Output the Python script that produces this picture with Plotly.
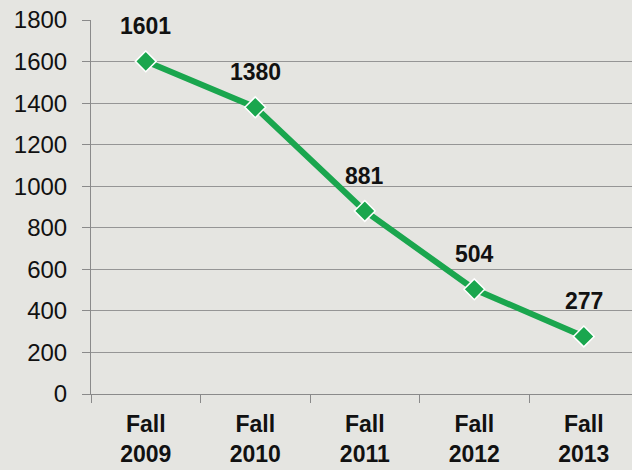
import plotly.graph_objects as go

categories = ["Fall<br>2009", "Fall<br>2010", "Fall<br>2011", "Fall<br>2012", "Fall<br>2013"]
values = [1601, 1380, 881, 504, 277]
y_ticks = [0, 200, 400, 600, 800, 1000, 1200, 1400, 1600, 1800]

green = "#1aa64e"
bg = "#e5e5e1"
FONT = "Liberation Sans, Arial"

fig = go.Figure()
fig.add_trace(go.Scatter(
    x=categories, y=values, mode="lines+markers",
    line=dict(color=green, width=6),
    marker=dict(symbol="diamond", size=16, color=green, line=dict(color="white", width=1.5)),
    hoverinfo="skip", showlegend=False,
))

for c, v in zip(categories, values):
    fig.add_annotation(x=c, y=v, text=f"<b>{v}</b>", showarrow=False,
                       yshift=35, font=dict(family=FONT, size=23, color="#111"))

fig.update_layout(
    width=632, height=470,
    margin=dict(l=91, r=0, t=20, b=76, autoexpand=False),
    paper_bgcolor=bg, plot_bgcolor=bg,
    font=dict(family=FONT, color="#111"),
)
fig.update_xaxes(
    type="category", range=[-0.5, 4.44],
    showgrid=False, showline=True, linecolor="#8a8a8a", linewidth=1,
    ticks="outside", ticklen=8, tickcolor="#8a8a8a", tickson="boundaries",
    tickfont=dict(size=23, family=FONT, color="#111"),
    tickprefix="<b>", ticksuffix="</b>",
    ticklabelstandoff=9,
    zeroline=False, automargin=False,
)
fig.update_yaxes(
    range=[0, 1800], tickvals=y_ticks,
    showgrid=True, gridcolor="#959595", gridwidth=1,
    showline=True, linecolor="#8a8a8a", linewidth=1,
    ticks="outside", ticklen=8, tickcolor="#8a8a8a",
    tickfont=dict(size=24, family=FONT, color="#111"),
    ticklabelstandoff=10,
    zeroline=False, automargin=False,
)

fig.write_html(
    "out.html",
    config={"displayModeBar": False},
    post_script="document.body.style.margin='0';document.body.style.background='#e5e5e1';",
)
